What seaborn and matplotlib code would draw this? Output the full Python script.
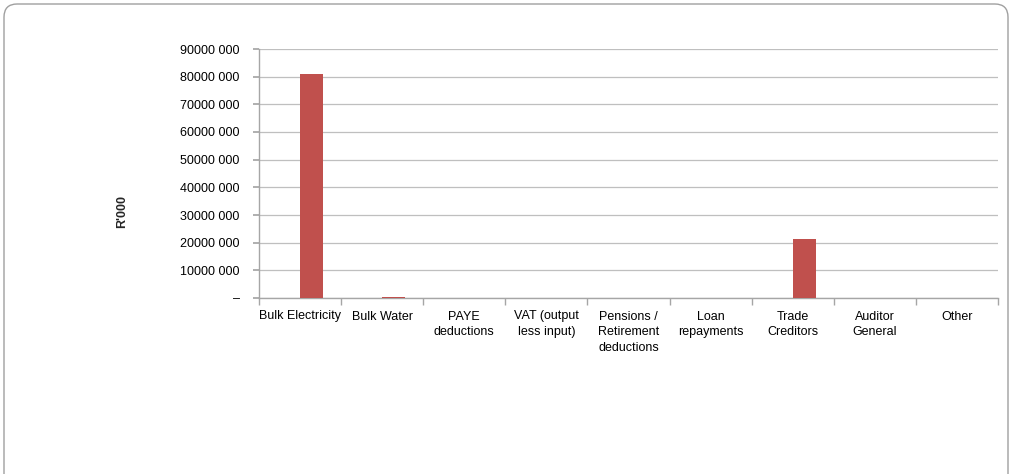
import matplotlib
matplotlib.use("Agg")
import matplotlib.pyplot as plt
import seaborn as sns
import pandas as pd
from matplotlib.patches import FancyBboxPatch
from matplotlib.ticker import FuncFormatter, FixedLocator

categories = ["Bulk Electricity", "Bulk Water", "PAYE\ndeductions", "VAT (output\nless input)",
              "Pensions /\nRetirement\ndeductions", "Loan\nrepayments", "Trade\nCreditors",
              "Auditor\nGeneral", "Other"]
series_names = ["Series 1", "Series 2"]
series1_values = [0, 0, 0, 0, 0, 0, 0, 0, 0]
series2_values = [81000000, 400000, 0, 0, 0, 0, 21300000, 0, 0]
yticks = [0, 10000000, 20000000, 30000000, 40000000, 50000000, 60000000, 70000000, 80000000, 90000000]

sns.set_theme(style="white")
plt.rcParams['font.family'] = ['Liberation Sans', 'DejaVu Sans']

df = pd.DataFrame({
    "cat": categories * 2,
    "series": [series_names[0]] * len(categories) + [series_names[1]] * len(categories),
    "val": series1_values + series2_values,
})

W, H = 1012, 474
fig = plt.figure(figsize=(W/100, H/100), dpi=100)
ax = fig.add_axes([259/W, 1 - 298/H, (998-259)/W, (298-49)/H])

sns.barplot(data=df, x="cat", y="val", hue="series", hue_order=series_names,
            palette=["#4F81BD", "#C0504D"], saturation=1, width=0.56, linewidth=0,
            ax=ax, zorder=3, legend=False)

ax.set_ylim(0, 90000000)
ax.set_xlim(-0.5, len(categories) - 0.5)
ax.yaxis.set_major_locator(FixedLocator(yticks))

def fmt(v, pos):
    if v == 0:
        return "–"
    s = f"{int(v):d}"
    return s[:-3] + " " + s[-3:]

ax.yaxis.set_major_formatter(FuncFormatter(fmt))
ax.grid(axis="y", color="#BFBFBF", linewidth=0.9, zorder=0)
ax.set_axisbelow(True)
for s in ["top", "right"]:
    ax.spines[s].set_visible(False)
for s in ["left", "bottom"]:
    ax.spines[s].set_color("#A6A6A6")
    ax.spines[s].set_linewidth(1.0)

ax.tick_params(axis="y", which="major", left=True, length=4, color="#A6A6A6", labelsize=9, pad=10, labelcolor="black")
ax.tick_params(axis="x", which="major", bottom=False, length=0, labelsize=9, pad=9, labelcolor="black")
ax.set_xticks(range(len(categories)))
ax.set_xticklabels(categories, linespacing=1.4)
ax.set_xticks([i - 0.5 for i in range(len(categories) + 1)], minor=True)
ax.tick_params(axis="x", which="minor", bottom=True, length=5, color="#A6A6A6")

ax.set_xlabel("")
ax.set_ylabel("R'000", fontsize=9, fontweight="bold", labelpad=0)
ax.yaxis.set_label_coords((128 - 259) / (998 - 259), (298 - 212) / (298 - 49))

border = FancyBboxPatch((4/W, -0.2), (1008-4)/W, (1 - 4/H) + 0.2,
                        boxstyle="round,pad=0,rounding_size=0.013",
                        transform=fig.transFigure, fill=False, edgecolor="#A0A0A0",
                        linewidth=1.0, mutation_aspect=W/H)
fig.patches.append(border)

fig.savefig("out.png", dpi=100, facecolor="white")
